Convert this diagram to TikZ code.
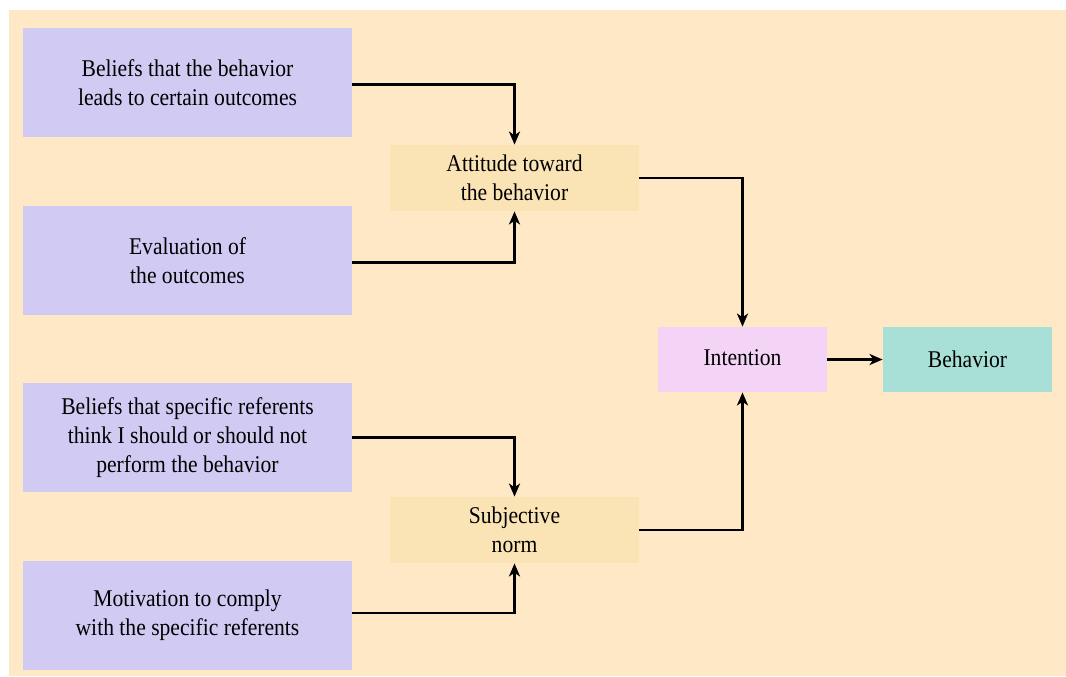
\documentclass[tikz,border=0pt]{standalone}
\usepackage{fontspec}
\setmainfont{Liberation Serif}[FakeStretch=0.9]
\usepackage{tikz}
\usetikzlibrary{arrows.meta}
\definecolor{fondo}{RGB}{255,232,198}
\definecolor{creencia}{RGB}{209,203,243}
\definecolor{norma}{RGB}{250,228,181}
\definecolor{intencion}{RGB}{243,212,246}
\definecolor{conducta}{RGB}{168,224,216}
\tikzstyle{caja} = [rectangle, inner sep=0pt, align=center, font=\fontsize{12}{14.5}\selectfont]
\tikzstyle{creenciabox} = [caja, fill=creencia, minimum width=164.5pt, minimum height=54.5pt]
\tikzstyle{normabox} = [caja, fill=norma, minimum width=124.5pt, minimum height=33pt]
\tikzstyle{finalbox} = [caja, minimum width=84.5pt, minimum height=32.5pt]
\tikzstyle{flecha} = [line width=1.4pt, -{Stealth[length=6.5pt, width=5.5pt, inset=1.8pt]}]

\begin{document}
\begin{tikzpicture}[x=0.5pt, y=-0.5pt]
	\useasboundingbox (0,0) rectangle (1066,676);
	\fill[fondo] (9,10) rectangle (1066,676);
	\node[creenciabox](b1) at (187.5,82.5) {Beliefs that the behavior\\leads to certain outcomes};
	\node[creenciabox](b2) at (187.5,260.5) {Evaluation of\\the outcomes};
	\node[creenciabox](b3) at (187.5,437.5) {Beliefs that specific referents\\think I should or should not\\perform the behavior};
	\node[creenciabox](b4) at (187.5,615) {Motivation to comply\\with the specific referents};
	\node[normabox](actitud) at (514.5,178) {Attitude toward\\the behavior};
	\node[normabox](subjetiva) at (514.5,530) {Subjective\\norm};
	\node[finalbox, fill=intencion](intencion) at (742.5,359.5) {\raisebox{2pt}{Intention}};
	\node[finalbox, fill=conducta](conducta) at (967.5,359.5) {\raisebox{-2pt}{Behavior}};
	\draw[flecha] ([yshift=-1pt]b1.east) -| (actitud.north);
	\draw[flecha] ([yshift=-1pt]b2.east) -| (actitud.south);
	\draw[flecha] (actitud.east) -| (intencion.north);
	\draw[flecha] (b3.east) -| (subjetiva.north);
	\draw[flecha] ([yshift=1pt]b4.east) -| (subjetiva.south);
	\draw[flecha] (subjetiva.east) -| (intencion.south);
	\draw[flecha] (intencion) -- (conducta);
\end{tikzpicture}
\end{document}
